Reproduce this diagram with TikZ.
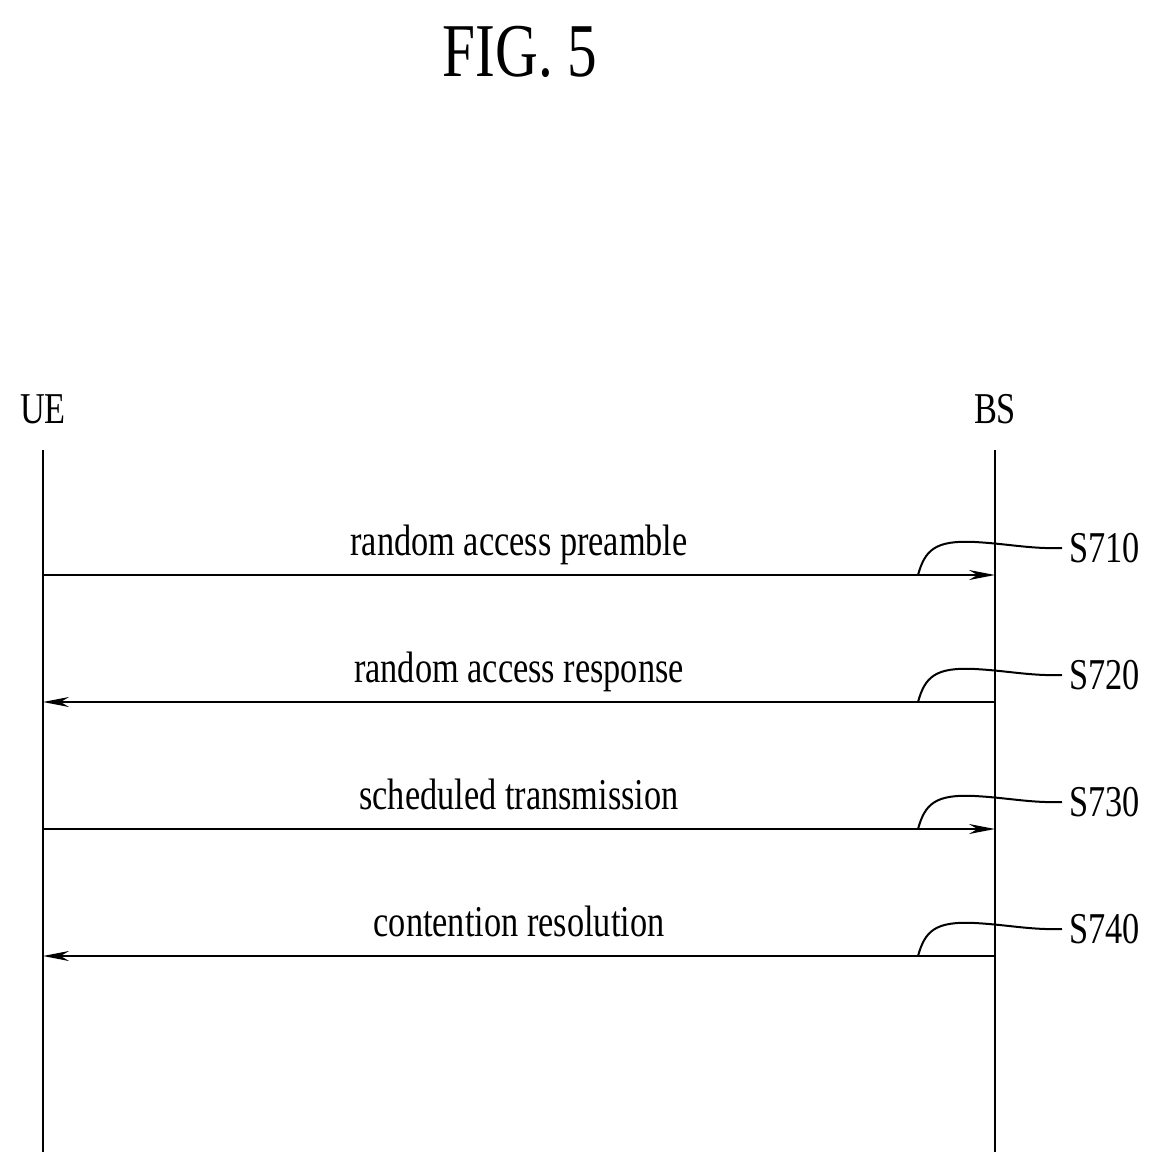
\documentclass[tikz,border=0pt]{standalone}
\usepackage{fontspec}
\setmainfont{Liberation Serif}
\usetikzlibrary{arrows.meta}
\newcommand{\nt}[1]{\scalebox{0.78}[1]{#1}}
\begin{document}
\begin{tikzpicture}[x=0.5pt,y=-0.5pt,
  life/.style={line width=1pt},
  msg/.style={line width=1.1pt,-{Stealth[length=13pt,width=5pt]}},
  lbl/.style={font=\fontsize{22}{24}\selectfont,anchor=base},
  tag/.style={font=\fontsize{22}{24}\selectfont,anchor=west},
  sq/.style={line width=1pt}]
\useasboundingbox (0,0) rectangle (1164,1173);
\node[font=\fontsize{38}{40}\selectfont] (fig) at (520,52) {\nt{FIG. 5}};
\node[lbl] (ue) at (43,423) {\nt{UE}};
\node[lbl] (bs) at (995,423) {\nt{BS}};
\coordinate (uet) at (43,450); \coordinate (ueb) at (43,1152);
\coordinate (bst) at (995,450); \coordinate (bsb) at (995,1152);
\draw[life] (uet) -- (ueb);
\draw[life] (bst) -- (bsb);
\foreach \y/\t/\s/\d in {575/random access preamble/S710/1, 702/random access response/S720/0, 829/scheduled transmission/S730/1, 956/contention resolution/S740/0}{
  \coordinate (l\s) at (43,\y); \coordinate (r\s) at (995,\y);
  \ifnum\d=1 \draw[msg] (l\s) -- (r\s); \else \draw[msg] (r\s) -- (l\s); \fi
  \node[lbl] (m\s) at (519,\y-20) {\nt{\t}};
  \node[tag] (t\s) at (1062,\y-27) {\nt{\s}};
  \coordinate (q\s) at (918,\y);
  \draw[sq] (q\s) .. controls (925,\y-25) and (935,\y-35) .. (975,\y-33) .. controls (1010,\y-31) and (1030,\y-26) .. (t\s.west);
}
\end{tikzpicture}
\end{document}
